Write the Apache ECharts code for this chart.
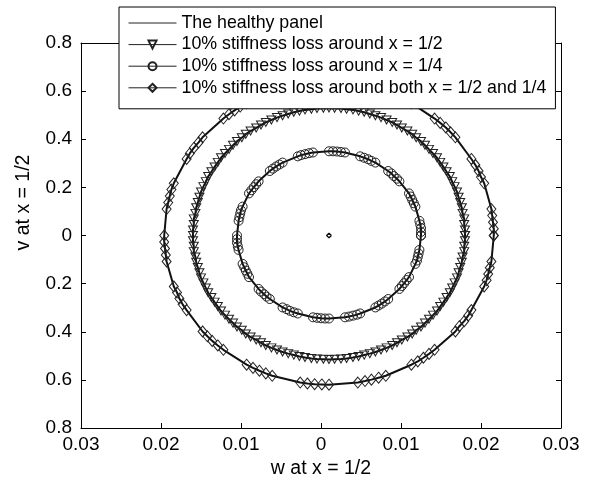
<!DOCTYPE html>
<html>
<head>
<meta charset="utf-8">
<script src="https://cdn.jsdelivr.net/npm/echarts@6/dist/echarts.min.js"></script>
<style>html,body{margin:0;padding:0;background:#fff}#c{width:602px;height:484px}</style>
</head>
<body>
<div id="c"></div>
<script>
// ---- data ----
const seriesNames = [
  'The healthy panel',
  '10% stiffness loss around x = 1/2',
  '10% stiffness loss around x = 1/4',
  '10% stiffness loss around both x = 1/2 and 1/4'
];
const xTickLabels = ['0.03','0.02','0.01','0','0.01','0.02','0.03'];
const yTickLabels = ['0.8','0.6','0.4','0.2','0','0.2','0.4','0.6','0.8'];
const xAxisName = 'w at x = 1/2';
const yAxisName = 'v at x = 1/2';

// healthy panel: tiny loop at the centre
const healthy = [[0.0013,0],[0.00121,0.007],[0.001,0.0095],[0.00079,0.007],[0.0007,0],[0.00079,-0.007],[0.001,-0.0095],[0.00121,-0.007],[0.0013,0]];

// 10% loss around x = 1/2 (triangles)
const lossHalf = [
[0.0180,0],[0.0180,0.023],[0.0179,0.046],[0.0179,0.069],[0.0177,0.092],[0.0176,0.115],[0.0174,0.137],[0.0172,0.159],[0.0170,0.181],[0.0167,0.203],[0.0164,0.224],[0.0161,0.245],[0.0157,0.265],[0.0153,0.285],[0.0149,0.304],[0.0145,0.323],[0.0140,0.341],[0.0135,0.358],[0.0130,0.375],[0.0125,0.391],[0.0119,0.406],[0.0114,0.421],[0.0108,0.434],[0.0101,0.447],[0.0095,0.459],[0.0089,0.470],[0.0082,0.480],[0.0075,0.490],[0.0068,0.498],[0.0061,0.505],[0.0054,0.512],[0.0047,0.517],[0.0040,0.522],[0.0032,0.525],[0.0025,0.528],[0.0017,0.529],
[0.0010,0.530],[0.0003,0.529],[-0.0005,0.528],[-0.0012,0.525],[-0.0020,0.522],[-0.0027,0.517],[-0.0034,0.512],[-0.0041,0.505],[-0.0048,0.498],[-0.0055,0.490],[-0.0062,0.480],[-0.0069,0.470],[-0.0075,0.459],[-0.0081,0.447],[-0.0088,0.434],[-0.0094,0.421],[-0.0099,0.406],[-0.0105,0.391],[-0.0110,0.375],[-0.0115,0.358],[-0.0120,0.341],[-0.0125,0.323],[-0.0129,0.304],[-0.0133,0.285],[-0.0137,0.265],[-0.0141,0.245],[-0.0144,0.224],[-0.0147,0.203],[-0.0150,0.181],[-0.0152,0.159],[-0.0154,0.137],[-0.0156,0.115],[-0.0157,0.092],[-0.0159,0.069],[-0.0159,0.046],[-0.0160,0.023],
[-0.0160,0],[-0.0160,-0.022],[-0.0159,-0.045],[-0.0159,-0.067],[-0.0157,-0.089],[-0.0156,-0.111],[-0.0154,-0.133],[-0.0152,-0.155],[-0.0150,-0.176],[-0.0147,-0.197],[-0.0144,-0.218],[-0.0141,-0.238],[-0.0137,-0.258],[-0.0133,-0.277],[-0.0129,-0.295],[-0.0125,-0.314],[-0.0120,-0.331],[-0.0115,-0.348],[-0.0110,-0.364],[-0.0105,-0.380],[-0.0099,-0.394],[-0.0094,-0.409],[-0.0088,-0.422],[-0.0081,-0.434],[-0.0075,-0.446],[-0.0069,-0.457],[-0.0062,-0.467],[-0.0055,-0.476],[-0.0048,-0.484],[-0.0041,-0.491],[-0.0034,-0.497],[-0.0027,-0.503],[-0.0020,-0.507],[-0.0012,-0.511],[-0.0005,-0.513],[0.0003,-0.514],
[0.0010,-0.515],[0.0017,-0.514],[0.0025,-0.513],[0.0032,-0.511],[0.0040,-0.507],[0.0047,-0.503],[0.0054,-0.497],[0.0061,-0.491],[0.0068,-0.484],[0.0075,-0.476],[0.0082,-0.467],[0.0089,-0.457],[0.0095,-0.446],[0.0101,-0.434],[0.0108,-0.422],[0.0114,-0.409],[0.0119,-0.394],[0.0125,-0.380],[0.0130,-0.364],[0.0135,-0.348],[0.0140,-0.331],[0.0145,-0.314],[0.0149,-0.295],[0.0153,-0.277],[0.0157,-0.258],[0.0161,-0.238],[0.0164,-0.218],[0.0167,-0.197],[0.0170,-0.176],[0.0172,-0.155],[0.0174,-0.133],[0.0176,-0.111],[0.0177,-0.089],[0.0179,-0.067],[0.0179,-0.045],[0.0180,-0.022],[0.0180,0]
];

// 10% loss around x = 1/4 (circles)
const lossQuarter = [
[0.0125,0],[0.0125,0.015],[0.0125,0.031],[0.0124,0.046],[0.0123,0.061],[0.0118,0.120],[0.0116,0.134],[0.0114,0.148],[0.0112,0.162],[0.0110,0.175],[0.0098,0.225],[0.0095,0.236],[0.0091,0.247],[0.0088,0.258],[0.0084,0.268],[0.0068,0.303],[0.0063,0.310],[0.0059,0.317],[0.0054,0.323],[0.0049,0.329],[0.0030,0.345],[0.0025,0.347],[0.0020,0.349],[0.0015,0.350],[0.0010,0.350],
[-0.0010,0.345],[-0.0015,0.342],[-0.0020,0.338],[-0.0025,0.334],[-0.0029,0.329],[-0.0048,0.303],[-0.0052,0.295],[-0.0056,0.287],[-0.0060,0.278],[-0.0064,0.268],[-0.0078,0.225],[-0.0081,0.213],[-0.0084,0.201],[-0.0087,0.188],[-0.0090,0.175],[-0.0098,0.120],[-0.0100,0.105],[-0.0101,0.091],[-0.0102,0.076],[-0.0103,0.061],
[-0.0105,0],[-0.0105,-0.015],[-0.0105,-0.030],[-0.0104,-0.045],[-0.0103,-0.060],[-0.0098,-0.118],[-0.0096,-0.132],[-0.0094,-0.146],[-0.0092,-0.159],[-0.0090,-0.173],[-0.0078,-0.222],[-0.0075,-0.233],[-0.0071,-0.244],[-0.0068,-0.254],[-0.0064,-0.264],[-0.0048,-0.299],[-0.0043,-0.306],[-0.0039,-0.313],[-0.0034,-0.319],[-0.0029,-0.324],[-0.0010,-0.340],[-0.0005,-0.342],[0.0000,-0.344],[0.0005,-0.345],[0.0010,-0.345],
[0.0030,-0.340],[0.0035,-0.337],[0.0040,-0.333],[0.0045,-0.329],[0.0049,-0.324],[0.0068,-0.299],[0.0072,-0.291],[0.0076,-0.283],[0.0080,-0.274],[0.0084,-0.264],[0.0098,-0.222],[0.0101,-0.210],[0.0104,-0.198],[0.0107,-0.185],[0.0110,-0.173],[0.0118,-0.118],[0.0120,-0.104],[0.0121,-0.089],[0.0122,-0.075],[0.0123,-0.060],[0.0125,0]
];

// 10% loss around both x = 1/2 and 1/4 (diamonds)
const lossBoth = [
[0.0216,0],[0.0216,0.028],[0.0215,0.055],[0.0214,0.083],[0.0213,0.110],[0.0204,0.217],[0.0200,0.243],[0.0197,0.268],[0.0193,0.293],[0.0188,0.318],[0.0168,0.408],[0.0162,0.429],[0.0156,0.449],[0.0149,0.468],[0.0142,0.486],[0.0113,0.550],[0.0105,0.563],[0.0097,0.576],[0.0089,0.587],[0.0081,0.597],[0.0046,0.625],[0.0037,0.630],[0.0028,0.633],[0.0019,0.634],[0.0010,0.635],
[-0.0026,0.625],[-0.0035,0.620],[-0.0043,0.613],[-0.0052,0.606],[-0.0061,0.597],[-0.0093,0.550],[-0.0101,0.536],[-0.0108,0.520],[-0.0115,0.504],[-0.0122,0.486],[-0.0148,0.408],[-0.0153,0.387],[-0.0159,0.364],[-0.0164,0.341],[-0.0168,0.318],[-0.0184,0.217],[-0.0187,0.191],[-0.0189,0.164],[-0.0191,0.137],[-0.0193,0.110],
[-0.0196,0],[-0.0196,-0.027],[-0.0195,-0.054],[-0.0194,-0.081],[-0.0193,-0.108],[-0.0184,-0.212],[-0.0180,-0.237],[-0.0177,-0.262],[-0.0173,-0.286],[-0.0168,-0.310],[-0.0148,-0.399],[-0.0142,-0.419],[-0.0136,-0.438],[-0.0129,-0.457],[-0.0122,-0.475],[-0.0093,-0.537],[-0.0085,-0.550],[-0.0077,-0.562],[-0.0069,-0.573],[-0.0061,-0.583],[-0.0026,-0.611],[-0.0017,-0.615],[-0.0008,-0.618],[0.0001,-0.619],[0.0010,-0.620],
[0.0046,-0.611],[0.0055,-0.605],[0.0063,-0.599],[0.0072,-0.591],[0.0081,-0.583],[0.0113,-0.537],[0.0121,-0.523],[0.0128,-0.508],[0.0135,-0.492],[0.0142,-0.475],[0.0168,-0.399],[0.0173,-0.377],[0.0179,-0.356],[0.0184,-0.333],[0.0188,-0.310],[0.0204,-0.212],[0.0207,-0.186],[0.0209,-0.160],[0.0211,-0.134],[0.0213,-0.108],[0.0216,0]
];

const xMin = -0.03, xMax = 0.03, xStep = 0.01;
const yMin = -0.8, yMax = 0.8, yStep = 0.2;

// ---- chart ----
const FONT = '"Liberation Sans", Arial, Helvetica, sans-serif';
const chart = echarts.init(document.getElementById('c'), null, {renderer: 'canvas'});
const axisLineStyle = {show: true, onZero: false, lineStyle: {color: '#000', width: 1}};
const tickStyle = {show: true, inside: true, length: 5, lineStyle: {color: '#000', width: 1}};
const lineColor = '#111';
const markerStyle = {color: 'transparent', borderColor: '#222', borderWidth: 1};

chart.setOption({
  animation: false,
  backgroundColor: '#fff',
  grid: {left: 81, right: 41, top: 43, bottom: 51, containLabel: false},
  xAxis: [
    {type: 'value', min: xMin, max: xMax, interval: xStep, position: 'bottom',
     axisLine: axisLineStyle, axisTick: tickStyle, splitLine: {show: false},
     axisLabel: {color: '#000', fontSize: 19, fontFamily: FONT, margin: 7,
       formatter: v => xTickLabels[Math.round((v - xMin) / xStep)]},
     name: xAxisName, nameLocation: 'middle', nameGap: 31,
     nameTextStyle: {color: '#000', fontSize: 19.5, fontFamily: FONT}},
    {type: 'value', min: xMin, max: xMax, interval: xStep, position: 'top',
     axisLine: axisLineStyle, axisTick: tickStyle, splitLine: {show: false},
     axisLabel: {show: false}}
  ],
  yAxis: [
    {type: 'value', min: yMin, max: yMax, interval: yStep, position: 'left',
     axisLine: axisLineStyle, axisTick: tickStyle, splitLine: {show: false},
     axisLabel: {color: '#000', fontSize: 19, fontFamily: FONT, margin: 9,
       formatter: v => yTickLabels[Math.round((v - yMin) / yStep)]},
     name: yAxisName, nameLocation: 'middle', nameGap: 47,
     nameTextStyle: {color: '#000', fontSize: 19.5, fontFamily: FONT, padding: [0, 0, 0, 66]}},
    {type: 'value', min: yMin, max: yMax, interval: yStep, position: 'right',
     axisLine: axisLineStyle, axisTick: tickStyle, splitLine: {show: false},
     axisLabel: {show: false}}
  ],
  legend: {
    orient: 'vertical', left: 119, top: 7,
    padding: [7, 9, 12, 9], itemGap: 3.6, itemWidth: 48, itemHeight: 10,
    backgroundColor: '#fff', borderColor: '#000', borderWidth: 1, borderRadius: 0,
    textStyle: {color: '#000', fontSize: 17.8, fontFamily: FONT},
    lineStyle: {width: 1, color: '#222'},
    data: [
      {name: seriesNames[0], itemStyle: {color: 'transparent', borderWidth: 0, opacity: 0}},
      seriesNames[1], seriesNames[2], seriesNames[3]
    ],
    z: 10
  },
  series: [
    {name: seriesNames[0], type: 'line', data: healthy, symbol: 'none',
     lineStyle: {color: lineColor, width: 1.4}, itemStyle: {color: lineColor}, z: 3},
    {name: seriesNames[1], type: 'line', data: lossHalf, symbol: 'triangle', symbolRotate: 180,
     symbolSize: [9, 8], lineStyle: {color: lineColor, width: 2}, itemStyle: markerStyle, z: 3},
    {name: seriesNames[2], type: 'line', data: lossQuarter, symbol: 'circle',
     symbolSize: 9, lineStyle: {color: lineColor, width: 2}, itemStyle: markerStyle, z: 3},
    {name: seriesNames[3], type: 'line', data: lossBoth, symbol: 'diamond',
     symbolSize: [9, 11], lineStyle: {color: lineColor, width: 2}, itemStyle: markerStyle, z: 3}
  ]
});
</script>
</body>
</html>
